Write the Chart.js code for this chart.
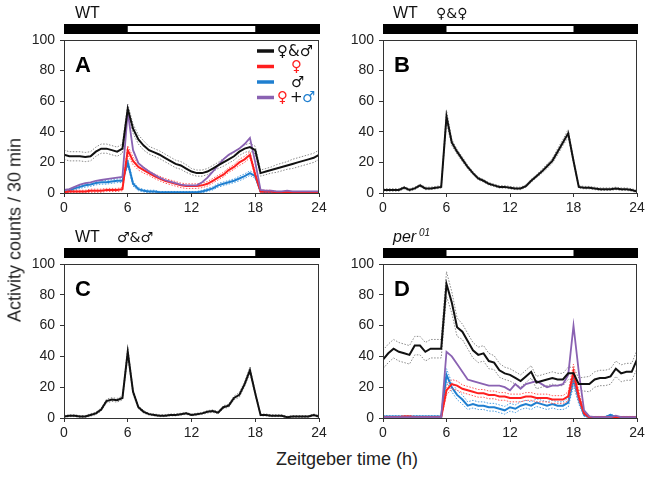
<!DOCTYPE html>
<html>
<head>
<meta charset="utf-8">
<script src="https://cdn.jsdelivr.net/npm/chart.js@4.4.1/dist/chart.umd.min.js"></script>
<style>
  body { margin: 0; background: #fff; width: 653px; height: 480px; position: relative; overflow: hidden;
         font-family: Arial, "Liberation Sans", sans-serif; color: #222; }
  .panel { position: absolute; }
  #ylab { position: absolute; left: 15px; top: 230px; transform: translate(-50%, -50%) rotate(-90deg);
          font-size: 18px; white-space: nowrap; }
  #xlab { position: absolute; left: 347px; top: 459px; transform: translate(-50%, -50%);
          font-size: 18px; white-space: nowrap; }
</style>
</head>
<body>
<div class="panel" style="left:0;top:0"><canvas id="pA" width="330" height="222"></canvas></div>
<div class="panel" style="left:330px;top:0"><canvas id="pB" width="323" height="222"></canvas></div>
<div class="panel" style="left:0;top:224px"><canvas id="pC" width="330" height="222"></canvas></div>
<div class="panel" style="left:330px;top:224px"><canvas id="pD" width="323" height="222"></canvas></div>
<div id="ylab">Activity counts / 30 min</div>
<div id="xlab">Zeitgeber time (h)</div>
<script>
// tiempo (h), un punto cada 30 min
const hours = [0, 0.5, 1, 1.5, 2, 2.5, 3, 3.5, 4, 4.5, 5, 5.5,
               6, 6.5, 7, 7.5, 8, 8.5, 9, 9.5, 10, 10.5, 11, 11.5,
               12, 12.5, 13, 13.5, 14, 14.5, 15, 15.5, 16, 16.5, 17, 17.5,
               18, 18.5, 19, 19.5, 20, 20.5, 21, 21.5, 22, 22.5, 23, 23.5, 24];
const xTicks = [0, 6, 12, 18, 24];
const yTicks = [0, 20, 40, 60, 80, 100];

// A: WT pareja hembra + macho
const aPair = [25, 24, 24, 24, 23.5, 24, 27, 29, 29, 28, 27, 29,
               55, 42, 35, 31, 28, 26.5, 25, 23, 21, 19, 18, 16,
               14, 13, 13, 14, 16, 18, 20, 22, 24, 27, 29, 30,
               28, 13, 14, 15, 16, 17, 18, 19, 20, 21, 22, 23, 25];
const aPairErr = [3, 3, 3, 3, 3, 3, 3, 3, 3, 3, 3, 3,
                  3, 3, 3, 3, 2.5, 2.5, 2.5, 2.5, 2.5, 2.5, 2.5, 2.5,
                  2, 2, 2, 2, 2, 2, 2.5, 2.5, 2.5, 2.5, 2.5, 2.5,
                  2.5, 2, 2, 2, 2.5, 2.5, 2.5, 3, 3, 3, 3, 3, 3];
const aFem = [0.5, 1, 1, 1, 1, 1.5, 1.5, 1.5, 2, 2, 2, 2.5,
              28, 21, 17, 15, 13, 11, 9.5, 8, 7, 6, 5, 4.5,
              4.5, 4.5, 5, 6, 8, 10, 12, 15, 17, 20, 22, 25,
              12, 1, 1, 1, 0.5, 0.5, 0.5, 0.5, 0.5, 0.5, 0.5, 0.5, 0.5];
const aFemErr = [0.8, 0.8, 0.8, 0.8, 0.8, 1, 1, 1, 1, 1, 1, 1,
                 3, 2.5, 2, 2, 1.5, 1.5, 1.5, 1.5, 1.5, 1.5, 1.5, 1.5,
                 1.5, 1.5, 1.5, 1.5, 1.5, 1.5, 1.5, 1.5, 1.5, 2, 2, 2,
                 1.5, 0.8, 0.8, 0.8, 0.5, 0.5, 0.5, 0.5, 0.5, 0.5, 0.5, 0.5, 0.5];
const aMale = [1, 1.5, 3, 4, 5, 5.5, 6.5, 7, 7, 7.5, 8, 8,
               20, 6, 2.5, 1.5, 1, 1, 0.5, 0.5, 0.5, 0.5, 0.5, 0.5,
               0.5, 0.5, 1, 2, 3, 5, 6, 7, 8, 9.5, 11, 13,
               11, 1, 0.5, 0.5, 0.5, 0.5, 0.5, 0.5, 0.5, 0.5, 0.5, 0.5, 0.5];
const aMaleErr = [0.8, 1, 1, 1, 1.2, 1.2, 1.2, 1.2, 1.2, 1.2, 1.2, 1.2,
                  2, 1.5, 1, 0.8, 0.8, 0.8, 0.5, 0.5, 0.5, 0.5, 0.5, 0.5,
                  0.5, 0.5, 0.8, 1, 1, 1.2, 1.2, 1.2, 1.2, 1.5, 1.5, 1.5,
                  1.5, 0.8, 0.5, 0.5, 0.5, 0.5, 0.5, 0.5, 0.5, 0.5, 0.5, 0.5, 0.5];
const aSum = [2, 2.5, 4, 5.5, 6.5, 7, 8, 8.5, 9, 9.5, 10, 10.5,
              53, 28, 19.5, 16.5, 14, 12, 10, 8.5, 7.5, 6.5, 5.5, 5,
              5, 5, 7, 10, 14, 18, 22, 25, 27, 29, 32, 36,
              20, 2, 1.5, 1.5, 1, 1, 1.5, 1, 1, 1, 1, 1, 1];

// B: WT hembra + hembra
const bPair = [2, 2, 2, 2, 3.5, 2, 3, 5, 3, 3, 3.5, 4,
               50, 33, 27, 22, 17, 13, 9.5, 8, 6, 5, 4, 4,
               3.5, 3, 3, 4.5, 8, 11, 14, 17.5, 21, 27, 33, 39,
               21, 4, 3.5, 3.5, 3, 2.5, 2.5, 2.5, 3, 2.5, 2.5, 2, 1];
const bPairErr = [0.8, 0.8, 0.8, 0.8, 0.8, 0.8, 0.8, 0.8, 0.8, 0.8, 0.8, 0.8,
                  4, 2, 1.5, 1.5, 1.2, 1, 1, 0.8, 0.8, 0.8, 0.8, 0.8,
                  0.8, 0.8, 0.8, 0.8, 1, 1, 1.2, 1.5, 1.5, 2, 2, 2.5,
                  1.5, 0.8, 0.8, 0.8, 0.8, 0.8, 0.8, 0.8, 0.8, 0.8, 0.8, 0.8, 0.8];

// C: WT macho + macho
const cPair = [1, 1.5, 1.5, 1, 1, 2, 3, 5.5, 11, 12, 11.5, 13,
               43, 17, 7, 4, 2.5, 2, 1.5, 1.5, 2, 2, 2.5, 3,
               2, 2.5, 3, 4, 4.5, 3.5, 7, 8, 13, 15, 22, 31,
               16, 2, 2, 1.5, 1.5, 1.5, 0.5, 1, 1, 1, 1, 2, 1];
const cPairErr = [0.6, 0.6, 0.6, 0.6, 0.6, 0.8, 0.8, 1, 1.2, 1.2, 1.2, 1.2,
                  3, 1.5, 1, 0.8, 0.6, 0.6, 0.6, 0.6, 0.6, 0.6, 0.6, 0.6,
                  0.6, 0.6, 0.6, 0.8, 0.8, 0.8, 1, 1, 1.2, 1.5, 1.5, 2,
                  1.2, 0.6, 0.6, 0.6, 0.6, 0.6, 0.6, 0.6, 0.6, 0.6, 0.6, 0.6, 0.6];

// D: per01 pareja hembra + macho
const dPair = [38, 42, 45, 43, 42, 41, 47, 47, 43, 45, 45, 45,
               87, 75, 59, 56, 50, 44, 41, 42, 37, 36, 31, 29,
               28, 26, 24, 27, 30, 23, 24, 25, 26, 25, 25, 29,
               29, 22, 22, 22, 25, 26, 26, 27, 32, 29, 30, 30, 38];
const dPairErr = [6, 6, 6, 6, 6, 6, 6, 6, 6, 6, 6, 6,
                  8, 7, 6, 5, 5, 5, 5, 5, 5, 4.5, 4.5, 4,
                  4, 4, 4, 4, 4, 4, 4, 4, 4, 4, 4, 4,
                  4, 4, 4.5, 5, 5, 5, 5, 5, 5, 5.5, 5.5, 5.5, 6];
const dFem = [0.5, 0.5, 0.5, 0.5, 1, 1, 0.5, 0.5, 0.5, 0.5, 0.5, 0.5,
              18, 22, 21, 19, 18, 17, 16, 16, 15, 15, 14, 14,
              13, 13, 13, 14, 14, 13, 13, 13, 12, 12, 12, 14,
              30, 14, 3, 0.5, 0.5, 0.5, 0.5, 0.5, 0.5, 0.5, 0.5, 0.5, 0.5];
const dFemErr = [0.5, 0.5, 0.5, 0.5, 0.5, 0.5, 0.5, 0.5, 0.5, 0.5, 0.5, 0.5,
                 3, 3, 3, 2.5, 2.5, 2.5, 2.5, 2.5, 2.5, 2.5, 2.5, 2.5,
                 2.5, 2.5, 2.5, 2.5, 2.5, 2.5, 2.5, 2.5, 2.5, 2.5, 2.5, 3,
                 5, 3, 1, 0.5, 0.5, 0.5, 0.5, 0.5, 0.5, 0.5, 0.5, 0.5, 0.5];
const dMale = [1, 1, 1, 1, 1, 1, 1, 1, 1, 1, 1, 1,
               28, 20, 15, 12, 8, 9, 8, 8, 7, 7, 6, 5,
               7, 6, 8, 9, 8, 10, 9, 8, 9, 8, 8, 10,
               25, 12, 2, 0.5, 0.5, 0.5, 0.5, 2, 0.5, 0.5, 0.5, 0.5, 0.5];
const dMaleErr = [0.5, 0.5, 0.5, 0.5, 0.5, 0.5, 0.5, 0.5, 0.5, 0.5, 0.5, 0.5,
                  4, 3, 3, 3, 2.5, 2.5, 2.5, 2.5, 2.5, 2.5, 2.5, 2.5,
                  2.5, 2.5, 2.5, 2.5, 2.5, 2.5, 2.5, 2.5, 2.5, 2.5, 2.5, 3,
                  4, 3, 1, 0.5, 0.5, 0.5, 0.5, 0.5, 0.5, 0.5, 0.5, 0.5, 0.5];
const dSum = [0.5, 0.5, 0.5, 0.5, 0.5, 0.5, 0.5, 0.5, 0.5, 0.5, 0.5, 0.5,
              43, 40, 35, 30, 25, 24, 23, 22, 21, 21, 21, 20,
              18, 22, 19, 22, 23, 24, 22, 20, 21, 21, 22, 28,
              60, 30, 5, 1, 0.5, 0.5, 0.5, 0.5, 1.5, 0.5, 0.5, 0.5, 0.5];

const BLACK = '#111', RED = '#ff1f1f', BLUE = '#1f7fd0', PURPLE = '#8a62b2';
const SANS = 'Arial, "Liberation Sans", "DejaVu Sans", sans-serif';
const SYM = '"DejaVu Sans", sans-serif';

function pts(vals) { return vals.map((v, i) => ({ x: hours[i], y: v })); }
function shift(vals, err, s) { return vals.map((v, i) => Math.max(0, v + s * err[i])); }

function mainLine(vals, color, w) {
  return { data: pts(vals), borderColor: color, borderWidth: w, pointRadius: 0, tension: 0, fill: false };
}
function dotLine(vals, color) {
  return { data: pts(vals), borderColor: color, borderWidth: 1, borderDash: [1.5, 1.5], pointRadius: 0, tension: 0, fill: false };
}
function withBand(vals, err, color, dotColor, w) {
  return [mainLine(vals, color, w), dotLine(shift(vals, err, 1), dotColor), dotLine(shift(vals, err, -1), dotColor)];
}

// decoraciones de cada panel: título, barra luz/oscuridad, letra y leyenda
const deco = {
  pA: { title: [{ t: 'WT', dx: 11, f: '16px ' + SANS }], letter: 'A', legend: true },
  pB: { title: [{ t: 'WT', dx: 10, f: '16px ' + SANS }, { t: '♀&♀', dx: 53, f: '14px ' + SYM }], letter: 'B' },
  pC: { title: [{ t: 'WT', dx: 11, f: '16px ' + SANS }, { t: '♂&♂', dx: 53, f: '14px ' + SYM }], letter: 'C' },
  pD: { title: [{ t: 'per', dx: 10, f: 'italic 16px ' + SANS }, { t: '01', dx: 36, dy: -6, f: 'italic 10px ' + SANS }], letter: 'D' }
};

// leyenda del panel A: [texto, color, desplazamiento x]
const legendRows = [
  { color: BLACK, parts: [['♀&♂', BLACK, 0]] },
  { color: RED, parts: [['♀', RED, 14]] },
  { color: BLUE, parts: [['♂', BLACK, 14]] },
  { color: PURPLE, parts: [['♀', RED, 0], ['+', BLACK, 13], ['♂', BLUE, 25]] }
];

const decoPlugin = {
  id: 'deco',
  afterDraw(chart) {
    const d = deco[chart.canvas.id];
    const ctx = chart.ctx, a = chart.chartArea, xs = chart.scales.x;
    ctx.save();
    // marco
    ctx.strokeStyle = '#333'; ctx.lineWidth = 1;
    ctx.strokeRect(a.left + 0.5, a.top + 0.5, a.right - a.left - 1, a.bottom - a.top);
    // barra LD
    const bt = a.top - 16;
    const x0 = xs.getPixelForValue(0), x6 = xs.getPixelForValue(6),
          x18 = xs.getPixelForValue(18), x24 = xs.getPixelForValue(24);
    ctx.fillStyle = '#000'; ctx.fillRect(x0, bt, x24 - x0 + 1, 10);
    ctx.fillStyle = '#fff'; ctx.fillRect(x6, bt + 2, x18 - x6, 6);
    // título
    ctx.fillStyle = '#111'; ctx.textBaseline = 'alphabetic'; ctx.textAlign = 'left';
    d.title.forEach(s => { ctx.font = s.f; ctx.fillText(s.t, a.left + s.dx, a.top - 22 + (s.dy || 0)); });
    // letra
    ctx.font = 'bold 22px ' + SANS; ctx.fillStyle = '#000';
    ctx.fillText(d.letter, a.left + 11, a.top + 32);
    // leyenda
    if (d.legend) {
      ctx.font = '15px ' + SYM; ctx.textBaseline = 'middle';
      legendRows.forEach((r, i) => {
        const y = a.top + 11 + i * 15.5;
        ctx.strokeStyle = r.color; ctx.lineWidth = 3.5;
        ctx.beginPath(); ctx.moveTo(a.right - 62, y); ctx.lineTo(a.right - 45, y); ctx.stroke();
        r.parts.forEach(([t, c, dx]) => { ctx.fillStyle = c; ctx.fillText(t, a.right - 42 + dx, y + 1); });
      });
    }
    ctx.restore();
  }
};

function panel(id, yw, padRight, padBottom, datasets) {
  const tickFont = { family: SANS, size: 14 };
  return new Chart(document.getElementById(id), {
    type: 'line',
    data: { datasets },
    options: {
      responsive: false,
      animation: false,
      layout: { padding: { left: 0, top: 40, right: padRight, bottom: padBottom } },
      plugins: { legend: { display: false }, tooltip: { enabled: false } },
      scales: {
        x: {
          type: 'linear', min: 0, max: 24,
          afterBuildTicks: s => { s.ticks = xTicks.map(v => ({ value: v })); },
          ticks: { color: '#222', font: tickFont, padding: 3, maxRotation: 0 },
          grid: { drawOnChartArea: false, tickLength: 4, color: '#333' },
          border: { color: '#333' },
          afterFit: s => { s.height = 22; }
        },
        y: {
          min: 0, max: 100,
          afterBuildTicks: s => { s.ticks = yTicks.map(v => ({ value: v })); },
          ticks: { color: '#222', font: tickFont, padding: 5 },
          grid: { drawOnChartArea: false, tickLength: 4, color: '#333' },
          border: { color: '#333' },
          afterFit: s => { s.width = yw; }
        }
      }
    },
    plugins: [decoPlugin]
  });
}

panel('pA', 64, 11, 7, [
  mainLine(aPair, BLACK, 2),
  mainLine(aSum, PURPLE, 1.8),
  ...withBand(aFem, aFemErr, RED, '#ff5a5a', 2),
  ...withBand(aMale, aMaleErr, BLUE, '#4d9ee0', 2),
  dotLine(shift(aPair, aPairErr, 1), '#8a8a8a'),
  dotLine(shift(aPair, aPairErr, -1), '#8a8a8a')
]);
panel('pB', 53, 16, 7, withBand(bPair, bPairErr, BLACK, '#8a8a8a', 2));
panel('pC', 64, 11, 6, withBand(cPair, cPairErr, BLACK, '#8a8a8a', 2));
panel('pD', 53, 16, 6, [
  mainLine(dPair, BLACK, 2),
  mainLine(dSum, PURPLE, 1.8),
  ...withBand(dFem, dFemErr, RED, '#ff5a5a', 2),
  ...withBand(dMale, dMaleErr, BLUE, '#4d9ee0', 2),
  dotLine(shift(dPair, dPairErr, 1), '#8a8a8a'),
  dotLine(shift(dPair, dPairErr, -1), '#8a8a8a')
]);
</script>
</body>
</html>
